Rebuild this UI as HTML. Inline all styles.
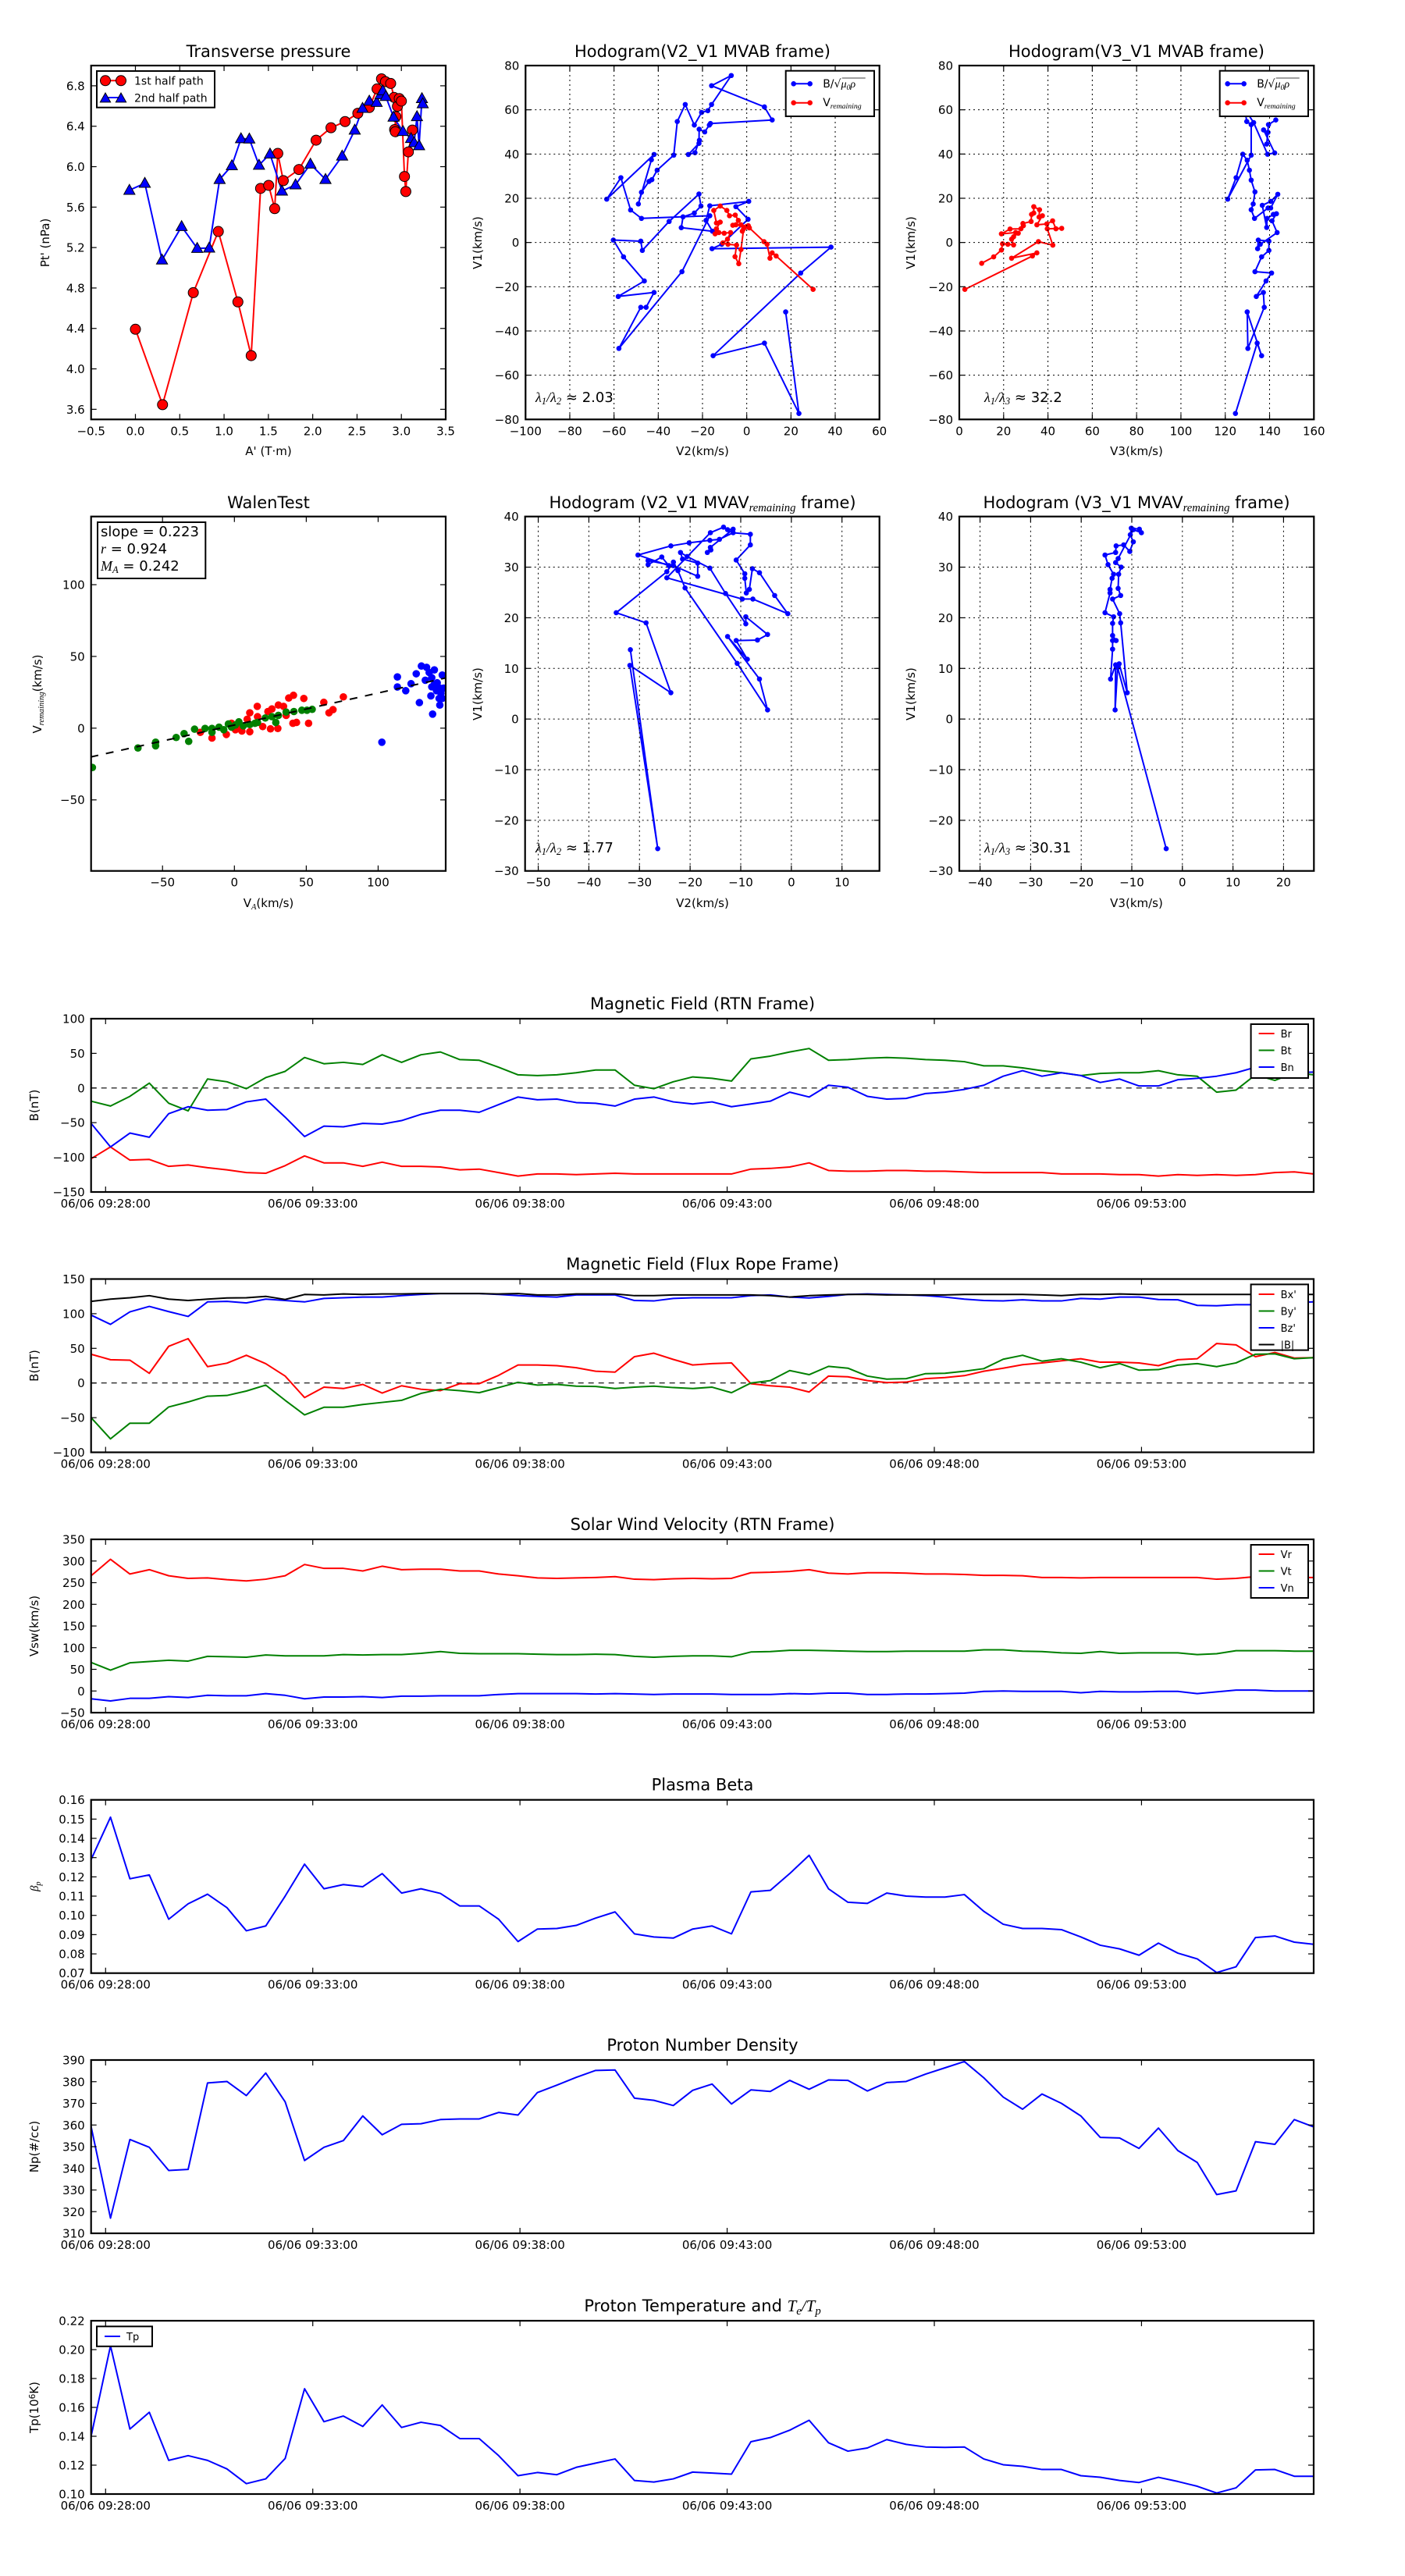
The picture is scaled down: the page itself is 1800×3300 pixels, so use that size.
<!DOCTYPE html>
<html><head><meta charset="utf-8"><title>Flux rope analysis</title>
<style>
html,body{margin:0;padding:0;background:#fff;}
svg{display:block;font-family:"DejaVu Sans","Liberation Sans",sans-serif;}
</style></head>
<body>
<svg id="fig" xmlns="http://www.w3.org/2000/svg" width="1800" height="3300" viewBox="0 0 1800 3300">
<rect x="0" y="0" width="1800" height="3300" fill="#fff"/>
</svg>
<script>
// ---------------- DATA ----------------
const pressureRedA = [0.0,0.306,0.653,0.935,1.156,1.306,1.412,1.503,1.571,1.606,1.668,1.844,2.038,2.206,2.365,2.509,2.638,2.726,2.776,2.821,2.879,2.918,2.956,2.938,2.924,2.932,2.976,3.0,3.035,3.05,3.079,3.124];
const pressureRedP = [4.392,3.646,4.754,5.359,4.662,4.131,5.785,5.815,5.585,6.131,5.862,5.972,6.262,6.385,6.446,6.528,6.585,6.769,6.869,6.841,6.823,6.685,6.597,6.495,6.367,6.346,6.674,6.649,5.903,5.754,6.146,6.362];
const pressureBlueA = [-0.068,0.106,0.3,0.521,0.697,0.832,0.95,1.088,1.191,1.285,1.394,1.518,1.653,1.806,1.974,2.144,2.332,2.474,2.562,2.638,2.721,2.765,2.791,2.824,2.912,3.018,3.109,3.144,3.176,3.2,3.232,3.241];
const pressureBlueP = [5.767,5.836,5.077,5.408,5.192,5.195,5.874,6.01,6.277,6.274,6.015,6.126,5.759,5.821,6.026,5.874,6.105,6.362,6.577,6.649,6.636,6.713,6.751,6.695,6.49,6.349,6.279,6.238,6.495,6.208,6.674,6.623];

const hodoB_V2 = [17.6,23.6,8.0,-15.2,24.4,38.1,-15.7,-11.3,0.6,-4.9,0.9,-16.7,-18.4,-15.5,-29.6,-28.8,-23.7,-20.7,-21.6,-35.1,-47.2,-47.9,-60.3,-55.7,-46.3,-58.1,-41.9,-45.5,-47.9,-57.8,-29.3,-16.7,-47.6,-52.5,-56.9,-63.3,-41.9,-43.1,-49.0,-47.6,-44.2,-42.9,-40.5,-33.0,-31.4,-27.8,-23.7,-20.4,-17.6,-15.9,-7.0,-15.9,8.0,11.5,-16.4,-16.9,-19.0,-21.5,-21.6,-26.4,-23.4,-21.4];
const hodoB_V1 = [-31.4,-77.3,-45.5,-51.2,-13.8,-2.1,-2.8,-0.8,10.5,16.2,18.6,16.6,10.0,5.1,6.7,11.6,13.3,16.5,21.9,9.5,-3.6,0.6,1.1,-6.5,-17.4,-24.4,-22.6,-29.3,-29.3,-47.9,-13.2,12.1,10.9,14.7,29.3,19.6,39.8,37.4,17.4,22.7,27.6,28.4,32.7,39.5,54.7,62.4,53.1,58.8,59.6,62.4,75.5,70.9,61.3,55.4,53.8,53.1,50.0,51.2,44.8,39.8,40.6,46.2];
const hodoR_V2 = [30,13.3,11.5,10.5,9.2,7.8,1.2,0.7,-1.4,-2.6,-3.6,-5.3,-4.6,-8.5,-10.8,-8.7,-7.3,-10.2,-12.6,-14.3,-13.7,-12.0,-13.7,-14.9,-12.0,-9.0,-7.8,-5.2,-3.8,-4.9,-6.3,-2.6,-0.2,-2.0];
const hodoR_V1 = [-21.2,-6.1,-4.7,-7.1,-0.8,0.4,6.6,7.6,6.2,-3.2,-9.6,-6.4,-1.2,-0.8,-0.2,1.5,4.5,4.2,4.5,3.9,6.2,9.2,8.8,14.5,16.5,14.5,12.1,12.4,10.0,8.0,7.8,8.0,7.2,5.1];
const hodoB_V3 = [124.6,134.4,136.4,129.9,130.2,137.6,137.2,134.0,138.4,140.9,133.4,136.4,139.7,139.7,134.9,134.6,135.8,143.4,141.1,143.1,141.7,138.9,138.7,136.7,140.5,143.7,140.5,139.3,133.2,131.7,132.6,133.4,131.7,130.9,129.9,127.9,124.9,121.1,131.7,131.7,129.7,128.8,132.8,139.1,142.3,137.3,139.3,138.7,139.5,142.8];
const hodoB_V1b = [-77.3,-45.5,-51.2,-31.4,-47.9,-29.3,-22.6,-24.4,-17.4,-13.8,-13.2,-6.5,-3.6,0.6,1.1,-2.8,-0.8,4.5,9.8,13.0,12.7,10.9,6.8,16.8,18.6,21.8,15.6,15.6,10.9,14.8,17.4,22.9,28.2,32.7,37.2,39.9,29.3,19.6,39.5,53.3,54.7,60.4,54.2,39.9,40.5,50.9,49.8,44.5,53.3,55.4];
const hodoR_V3 = [2.5,33.0,35.0,23.6,35.7,42.2,39.7,46.2,43.6,42.1,39.5,35.0,37.5,36.0,36.2,33.6,33.6,32.6,32.4,28.7,28.9,27.8,22.9,19.0,25.4,26.6,24.5,23.6,24.5,21.9,19.5,19.0,15.5,10.1];
const hodoR_V1b = [-21.2,-6.1,-4.7,-7.1,0.4,-1.2,6.2,6.4,6.2,9.8,8.4,8.0,12.1,11.5,14.8,16.2,13.3,12.7,9.5,8.6,7.6,6.2,6.1,3.9,4.5,4.2,2.6,1.5,-1.1,-0.8,-0.6,-3.4,-6.5,-9.4];

const walenGreenVA = [-98.8,-67.1,-54.8,-54.8,-40.5,-35,-31.8,-27.7,-20.4,-15.6,-15.6,-10.7,-7.4,-4.2,-2,3.1,6.2,10.7,16.1,21.5,28.8,30.6,36,41.4,46.9,54.1,50.5,26.1,14.3,0.7];
const walenGreenV = [-27.4,-13.8,-9.8,-12.3,-6.5,-3.8,-9.2,-0.7,-0.2,-0.2,-2.9,0.7,-1.1,2.9,0.7,4.4,1.6,2.5,4,7.1,4,8.9,11.2,11.6,12.5,13.1,12.5,8,3.4,2.2];
const walenRedVA = [-23.7,-15.6,-5.6,0.7,5.2,10.7,10.7,15.9,19.7,25.1,26.1,30.6,30.2,36,37.8,41.1,40.7,43.2,48.3,51.6,62.2,65.8,68.6,75.8,16.1,23.3,34.2,8.9,-2,3.4];
const walenRedV = [-2.9,-6.9,-4.4,-1.1,-2,-2.5,10.7,15.2,1.1,-0.5,13.4,16.1,-0.2,8.9,21,22.9,3.4,4,20.7,3.4,18,10.7,12.9,21.8,8,11.6,15.2,6.2,3.4,-0.2];
const walenBlueVA = [102.6,113.4,113.4,119.2,122.9,128.7,126.5,130.1,133.7,135.5,137.3,139.1,136.7,137.9,141.1,142.9,143.7,144.6,145.5,140.6,142.4,132.8,139.1,142.9,144.6,137.3];
const walenBlueV = [-9.8,35.7,28.7,26.1,31,17.8,37.9,43.3,42.4,38.8,35.2,40.6,22.5,9.8,31.6,16.1,24.3,37,27.9,26.1,20.7,33.4,30.6,27.9,20.7,28.8];
const walenFit = [0.223, 2.2];

const mvavV2 = [-31.8,-26.4,-31.9,-23.8,-28.7,-34.6,-24.6,-23.3,-22.4,-21.0,-10.7,-4.7,-6.3,-12.6,-8.7,-10.9,-6.7,-4.7,-9.0,-9.0,-13.0,-16.1,-20.6,-21.9,-21.5,-18.5,-18.5,-23.3,-28.3,-28.3,-25.6,-24.2,-30.3,-23.8,-20.2,-16.1,-14.2,-11.5,-8.1,-8.1,-10.9,-9.2,-9.2,-8.9,-8.3,-7.7,-6.3,-3.3,-0.7,-7.6,-9.7,-24.6,-16.0,-13.4,-12.6,-11.5,-16.0,-16.6,-15.9];
const mvavV1 = [13.7,-25.6,10.6,5.2,19.0,21.0,29.1,31.0,29.3,25.9,11.0,1.8,7.9,16.3,11.8,15.5,15.6,16.7,20.2,18.8,24.8,29.8,32.1,32.9,31.6,30.8,28.2,30.3,31.3,30.5,32.0,30.3,32.4,34.2,34.8,35.3,35.5,36.8,36.5,34.4,31.4,28.7,27.8,24.9,25.6,29.7,28.9,24.4,20.8,23.7,23.7,27.9,36.8,37.9,37.4,37.5,33.9,32.9,33.4];
const mvavV3 = [-3.2,-12.8,-13.3,-13.2,-14.2,-13.8,-13.8,-13.1,-13.8,-13.8,-13.6,-15.3,-14.3,-14.3,-13.9,-13.6,-14.7,-15.3,-13.2,-13.1,-11.6,-10.4,-9.7,-10.3,-10.1,-8.5,-8.1,-9.7,-12.7,-13.2,-12.1,-12.6,-12.7,-12.2,-13.8,-12.4,-12.2,-10.9,-12.5];
const mvavV1b = [-25.6,10.2,1.8,10.7,7.9,13.8,15.5,15.5,16.5,18.9,20.2,21.0,24.9,25.6,27.8,28.6,30.5,32.4,32.9,34.2,34.4,33.1,35.0,36.4,37.7,37.5,36.8,37.4,31.7,30.9,30.0,28.6,25.8,24.4,23.7,20.8,19.0,5.2,10.9];

const timeTicks = [0,300,600,900,1200,1500];
const timeTickLabels = ['06/06 09:28:00','06/06 09:33:00','06/06 09:38:00','06/06 09:43:00','06/06 09:48:00','06/06 09:53:00'];
const sampleStart = -21;  // seconds relative to 09:28:00
const sampleStep = 28.1;  // cadence (s)

const Br = [-102,-85,-104,-103,-113,-111,-115,-118,-122,-123,-112,-98,-108,-108,-113,-107,-113,-113,-114,-118,-117,-122,-127,-124,-124,-125,-124,-123,-124,-124,-124,-124,-124,-124,-117,-116,-114,-108,-119,-120,-120,-119,-119,-120,-120,-121,-122,-122,-122,-122,-124,-124,-124,-125,-125,-127,-125,-126,-125,-126,-125,-122,-121,-124];
const Bt = [-19,-26,-12,7,-22,-33,13,9,-1,15,24,44,35,37,34,48,37,48,52,41,40,30,19,18,19,22,26,26,4,-1,9,16,14,10,42,46,52,57,40,41,43,44,43,41,40,38,32,32,29,25,22,18,21,22,22,25,19,17,-6,-3,19,11,22,19];
const Bn = [-51,-85,-65,-71,-37,-27,-32,-31,-20,-16,-42,-70,-55,-56,-51,-52,-47,-38,-32,-32,-35,-24,-13,-17,-16,-21,-22,-26,-16,-13,-20,-23,-20,-27,-23,-19,-6,-13,4,1,-12,-16,-15,-8,-6,-2,4,17,25,17,22,18,8,13,3,3,12,14,17,22,30,25,22,23];
const Bx = [41.5,33.6,32.9,14,53,64,23.6,28.6,40,27.9,10,-21,-6,-8,-2,-14.5,-4,-9,-11,-1,-1,11,26,26,25,22,17,15.7,38,43,34,26,28,29,-1,-4,-6,-13,10,9,3.5,0.6,1.3,6.3,7.8,10.6,17,21.4,26.4,29,32,35,30,30,29,25,33.6,35,57,55,38,44,36,36.5];
const By = [-50,-80.6,-58,-58,-34.6,-27.4,-19,-18,-11.6,-3,-25,-46,-35,-35,-31,-28,-25,-15,-9,-11,-14,-6.6,1,-3,-2,-4.5,-5,-8,-6,-4.5,-6.6,-8,-6,-14,0,3.5,18,12,24,21.4,10,5.6,6.3,13.5,14,17,20.7,34.3,40,31.5,35,30,22,28,18.5,19.3,25.7,28,23.6,29,41.5,42,35,36.5];
const Bz = [98,84.6,102.6,110.5,103,96,117,117.7,115.5,121,119,117,122,123,124,124,126,127.7,129,129,129,127.7,126,125,124,127,127,127,119,118.4,122,123,123,123,126,127,124,122.7,125,127.7,128.4,127.7,127,126,124,121,119,118.4,120,118.4,118.4,122,121,124,124,120.5,120,112,111.5,113,113,116,116,117];
const Bmag = [117.7,121,123,126,121,119,121,122.7,123,125,120.5,127.7,127,128.4,127.7,128.4,128.4,129,129,129,129,128.4,129,127,127,128.4,128.4,128.4,126,126,127,127,127,127,127,126,124,126,127,127.7,127.7,127,127,127,127,127.7,127.7,127.7,127.7,127,126,127.7,127.7,128.4,127.7,127.7,127.7,127.7,127.7,127.7,127.7,127.7,127.7,127.7];
const Vr = [266,304,270,280,266,260,261,257,254,258,266,292,283,283,277,288,280,281,281,277,277,270,266,261,260,261,262,264,258,257,259,260,259,260,273,274,276,280,272,270,273,273,272,270,270,269,267,267,266,262,262,261,262,262,262,262,262,262,258,260,264,262,262,262];
const Vt = [66,48,65,68,71,69,80,79,78,83,81,81,81,84,83,84,84,87,91,87,86,86,86,85,84,84,85,84,80,78,80,81,81,79,90,91,94,94,93,92,91,91,92,92,92,92,95,95,92,91,88,87,91,87,88,88,88,84,86,93,93,93,92,92];
const Vn = [-18,-23,-17,-17,-13,-15,-10,-11,-11,-6,-10,-18,-14,-14,-13,-15,-12,-12,-11,-11,-11,-8,-6,-6,-6,-6,-7,-6,-7,-8,-7,-7,-7,-8,-8,-8,-6,-7,-5,-5,-8,-8,-7,-7,-6,-5,-1,0,-1,-1,-1,-4,-1,-2,-2,-1,-1,-6,-2,2,2,0,0,0];
const betaP = [0.129,0.151,0.119,0.121,0.098,0.106,0.111,0.104,0.092,0.0945,0.110,0.1266,0.1138,0.116,0.1149,0.1217,0.1116,0.1138,0.1114,0.1049,0.1049,0.098,0.0864,0.0929,0.0932,0.0948,0.0986,0.1018,0.0904,0.0888,0.0882,0.0929,0.0945,0.0904,0.1122,0.113,0.1217,0.1312,0.1138,0.1068,0.1062,0.1116,0.110,0.1095,0.1095,0.1108,0.1021,0.0954,0.0932,0.0932,0.0926,0.0888,0.0845,0.0826,0.0793,0.0856,0.0804,0.0774,0.0703,0.0733,0.0885,0.0893,0.0861,0.085];
const Np = [359.3,317,353.3,349.7,339,339.5,379.4,380.1,373.6,384,370.7,343.6,349.7,352.8,364.2,355.5,360.3,360.6,362.5,362.8,362.8,365.8,364.6,375,378.4,382,385.2,385.4,372.4,371.4,369,376,378.9,369.7,376.2,375.5,380.6,376.5,380.8,380.6,375.7,379.6,380.1,383.5,386.4,389.3,381.8,372.9,367.3,374.3,370,364.2,354.3,354,349.2,358.6,348.2,342.7,327.9,329.6,352.3,351.1,362.5,359.1];
const Tp = [0.140,0.2026,0.145,0.1566,0.1233,0.1266,0.1233,0.1174,0.1072,0.1105,0.1246,0.1729,0.1501,0.154,0.1468,0.1617,0.1461,0.1497,0.1475,0.1384,0.1384,0.1266,0.1127,0.1149,0.1134,0.1185,0.1214,0.1243,0.1094,0.1083,0.1105,0.1152,0.1145,0.1138,0.1362,0.1391,0.1442,0.1511,0.1355,0.1297,0.1319,0.1377,0.1344,0.1326,0.1323,0.1326,0.1243,0.1203,0.1192,0.117,0.117,0.1127,0.1116,0.1094,0.108,0.1116,0.1087,0.1054,0.1007,0.1043,0.1167,0.117,0.1123,0.1123];

// ---------------- DRAWING ----------------
const NS = 'http://www.w3.org/2000/svg';
const svg = document.getElementById('fig');
let clipId = 0;
function mk(tag, attrs, parent) {
  const e = document.createElementNS(NS, tag);
  for (const k in attrs) e.setAttribute(k, attrs[k]);
  (parent || svg).appendChild(e);
  return e;
}
function txt(parent, x, y, s, size, anchor, extra) {
  const t = mk('text', Object.assign({x: x, y: y, 'font-size': size, 'text-anchor': anchor || 'middle', fill: '#000'}, extra || {}), parent);
  t.textContent = s;
  return t;
}
function richText(parent, x, y, parts, size, anchor, extra) {
  // parts: [text, kind] kind: '', 'sub', 'it'
  const t = mk('text', Object.assign({x: x, y: y, 'font-size': size, 'text-anchor': anchor || 'middle', fill: '#000'}, extra || {}), parent);
  parts.forEach(p => {
    const ts = mk('tspan', {}, t);
    if (p[1] === 'sub') { ts.setAttribute('font-family', '"Liberation Serif", serif'); ts.setAttribute('font-style', 'italic'); ts.setAttribute('font-size', size * 0.7); ts.setAttribute('baseline-shift', '-25%'); }
    if (p[1] === 'it') { ts.setAttribute('font-family', '"Liberation Serif", serif'); ts.setAttribute('font-style', 'italic'); }
    if (p[1] === 'sup') { ts.setAttribute('font-size', size * 0.7); ts.setAttribute('baseline-shift', '40%'); }
    ts.textContent = p[0];
  });
  return t;
}
function axes(o) {
  const g = mk('g', {});
  
  
  o.g = g;
  o.sx = v => o.x + (v - o.xmin) / (o.xmax - o.xmin) * o.w;
  o.sy = v => o.y + o.h - (v - o.ymin) / (o.ymax - o.ymin) * o.h;
  const cp = mk('clipPath', {id: 'clip' + (++clipId)}, g);
  mk('rect', {x: o.x, y: o.y, width: o.w, height: o.h}, cp);
  o.clip = 'url(#clip' + clipId + ')';
  o.plot = mk('g', {'clip-path': o.clip}, g);
  
  
  return o;
}
function frame(o, xt, xl, yt, yl, grid) {
  const g = o.g;
  if (grid) {
    const gg = mk('g', {stroke: '#000', 'stroke-width': 1, 'stroke-dasharray': '2,4'}, g);
    
    
    xt.forEach(v => { const X = o.sx(v); if (X > o.x + 1 && X < o.x + o.w - 1) mk('line', {x1: X, x2: X, y1: o.y, y2: o.y + o.h}, gg); });
    yt.forEach(v => { const Y = o.sy(v); if (Y > o.y + 1 && Y < o.y + o.h - 1) mk('line', {x1: o.x, x2: o.x + o.w, y1: Y, y2: Y}, gg); });
  }
  const tg = mk('g', {stroke: '#000', 'stroke-width': 1.2}, g);
  
  
  const xg = mk('g', {}, g);
  
  
  const yg = mk('g', {}, g);
  
  
  xt.forEach((v, i) => {
    const X = o.sx(v);
    mk('line', {x1: X, x2: X, y1: o.y + o.h, y2: o.y + o.h - 7}, tg);
    mk('line', {x1: X, x2: X, y1: o.y, y2: o.y + 7}, tg);
    txt(xg, X, o.y + o.h + 20, xl[i], 15, 'middle');
  });
  yt.forEach((v, i) => {
    const Y = o.sy(v);
    mk('line', {x1: o.x, x2: o.x + 7, y1: Y, y2: Y}, tg);
    mk('line', {x1: o.x + o.w, x2: o.x + o.w - 7, y1: Y, y2: Y}, tg);
    txt(yg, o.x - 8, Y + 5.5, yl[i], 15, 'end');
  });
  const sp = mk('rect', {x: o.x, y: o.y, width: o.w, height: o.h, fill: 'none', stroke: '#000', 'stroke-width': 2.2}, g);
  
  
}
function polyline(o, xs, ys, color, width, name) {
  const pts = xs.map((x, i) => o.sx(x).toFixed(2) + ',' + o.sy(ys[i]).toFixed(2)).join(' ');
  const p = mk('polyline', {points: pts, fill: 'none', stroke: color, 'stroke-width': width, 'stroke-linejoin': 'round'}, o.plot);
  
  
  return p;
}
function dots(o, xs, ys, color, r, name, stroke) {
  const g = mk('g', {fill: color}, o.plot);
  
  
  xs.forEach((x, i) => mk('circle', Object.assign({cx: o.sx(x), cy: o.sy(ys[i]), r: r}, stroke ? {stroke: '#000', 'stroke-width': 1} : {}), g));
  return g;
}
function tri(parent, cx, cy, s, color) {
  return mk('polygon', {points: [cx, cy - s, cx - s * 0.95, cy + s * 0.7, cx + s * 0.95, cy + s * 0.7].join(' '), fill: color, stroke: '#000', 'stroke-width': 1}, parent);
}
function rng(a, b, s) { const r = []; for (let v = a; v <= b + 1e-9; v += s) r.push(Math.round(v * 1000) / 1000); return r; }
function minus(v) { return String(v).replace('-', '\u2212'); }

// ===== Row 1 =====
// Transverse pressure
const P1 = axes({name: 'transverse-pressure-chart', x: 116.7, y: 84, w: 454.3, h: 453.3, xmin: -0.5, xmax: 3.5, ymin: 3.5, ymax: 7.0});
polyline(P1, pressureRedA, pressureRedP, '#ff0000', 2, 'first-half-path-line');
polyline(P1, pressureBlueA, pressureBlueP, '#0000ff', 2, 'second-half-path-line');
{
  const g = mk('g', {}, P1.plot);
  
  
  pressureRedA.forEach((a, i) => mk('circle', {cx: P1.sx(a), cy: P1.sy(pressureRedP[i]), r: 6.5, fill: '#ff0000', stroke: '#000', 'stroke-width': 1}, g));
  const g2 = mk('g', {}, P1.plot);
  
  
  pressureBlueA.forEach((a, i) => tri(g2, P1.sx(a), P1.sy(pressureBlueP[i]), 7.5, '#0000ff'));
}
const pXt = rng(-0.5, 3.5, 0.5), pYt = rng(3.6, 6.8, 0.4);
frame(P1, pXt, pXt.map(v => minus(v.toFixed(1))), pYt, pYt.map(v => v.toFixed(1)), false);
{
  const lg = mk('g', {}, P1.g);
  
  
  mk('rect', {x: 124, y: 91, width: 151, height: 46.7, fill: '#fff', stroke: '#000', 'stroke-width': 2}, lg);
  mk('line', {x1: 135, x2: 155, y1: 103.3, y2: 103.3, stroke: '#ff0000', 'stroke-width': 2}, lg);
  mk('circle', {cx: 135, cy: 103.3, r: 6.5, fill: '#ff0000', stroke: '#000'}, lg);
  mk('circle', {cx: 155, cy: 103.3, r: 6.5, fill: '#ff0000', stroke: '#000'}, lg);
  txt(lg, 172, 108.5, '1st half path', 14, 'start');
  mk('line', {x1: 135, x2: 155, y1: 125, y2: 125, stroke: '#0000ff', 'stroke-width': 2}, lg);
  tri(lg, 135, 126, 7, '#0000ff'); tri(lg, 155, 126, 7, '#0000ff');
  txt(lg, 172, 130.5, '2nd half path', 14, 'start');
}
txt(svg, 344, 73, 'Transverse pressure', 21, 'middle');
txt(svg, 344, 583, "A' (T\u00B7m)", 15, 'middle');
txt(svg, 0, 0, "Pt' (nPa)", 15, 'middle', {transform: 'translate(63,311) rotate(-90)'});

// Hodogram legends helper
function hodoLegend(o, x0, name) {
  const lg = mk('g', {}, o.g);
  
  
  mk('rect', {x: x0, y: 90.7, width: 113.3, height: 58.3, fill: '#fff', stroke: '#000', 'stroke-width': 2}, lg);
  mk('line', {x1: x0 + 10, x2: x0 + 31, y1: 107.3, y2: 107.3, stroke: '#0000ff', 'stroke-width': 2}, lg);
  mk('circle', {cx: x0 + 10, cy: 107.3, r: 3.3, fill: '#0000ff'}, lg);
  mk('circle', {cx: x0 + 31, cy: 107.3, r: 3.3, fill: '#0000ff'}, lg);
  richText(lg, x0 + 47.5, 112, [['B/\u221A', ''], ['\u03BC', 'it'], ['0', 'sub'], ['\u03C1', 'it']], 14, 'start');
  mk('line', {x1: x0 + 72, x2: x0 + 102, y1: 100, y2: 100, stroke: '#000', 'stroke-width': 0.8}, lg);
  mk('line', {x1: x0 + 10, x2: x0 + 31, y1: 131.7, y2: 131.7, stroke: '#ff0000', 'stroke-width': 2}, lg);
  mk('circle', {cx: x0 + 10, cy: 131.7, r: 3.3, fill: '#ff0000'}, lg);
  mk('circle', {cx: x0 + 31, cy: 131.7, r: 3.3, fill: '#ff0000'}, lg);
  richText(lg, x0 + 47.5, 136, [['V', ''], ['remaining', 'sub']], 14, 'start');
}

// Hodogram V2-V1 MVAB
const H1 = axes({name: 'hodogram-v2-v1-mvab-chart', x: 673.3, y: 84, w: 453.4, h: 453.3, xmin: -100, xmax: 60, ymin: -80, ymax: 80});
const h1Xt = rng(-100, 60, 20), h1Yt = rng(-80, 80, 20);
frame(H1, h1Xt, h1Xt.map(minus), h1Yt, h1Yt.map(minus), true);
polyline(H1, hodoB_V2, hodoB_V1, '#0000ff', 2, 'b-field-path');
dots(H1, hodoB_V2, hodoB_V1, '#0000ff', 3.3, 'b-field-points');
polyline(H1, hodoR_V2, hodoR_V1, '#ff0000', 2, 'v-remaining-path');
dots(H1, hodoR_V2, hodoR_V1, '#ff0000', 3.3, 'v-remaining-points');
hodoLegend(H1, 1006.7, 'hodogram-v2-v1-legend');
richText(H1.g, 686, 515, [['\u03BB', 'it'], ['1', 'sub'], ['/', 'it'], ['\u03BB', 'it'], ['2', 'sub'], [' \u2248 2.03', '']], 18, 'start');
txt(svg, 900, 73, 'Hodogram(V2_V1 MVAB frame)', 21, 'middle');
txt(svg, 900, 583, 'V2(km/s)', 15, 'middle');
txt(svg, 0, 0, 'V1(km/s)', 15, 'middle', {transform: 'translate(617,311) rotate(-90)'});

// Hodogram V3-V1 MVAB
const H2 = axes({name: 'hodogram-v3-v1-mvab-chart', x: 1229, y: 84, w: 454.3, h: 453.3, xmin: 0, xmax: 160, ymin: -80, ymax: 80});
const h2Xt = rng(0, 160, 20);
frame(H2, h2Xt, h2Xt.map(minus), h1Yt, h1Yt.map(minus), true);
polyline(H2, hodoB_V3, hodoB_V1b, '#0000ff', 2, 'b-field-path');
dots(H2, hodoB_V3, hodoB_V1b, '#0000ff', 3.3, 'b-field-points');
polyline(H2, hodoR_V3, hodoR_V1b, '#ff0000', 2, 'v-remaining-path');
dots(H2, hodoR_V3, hodoR_V1b, '#ff0000', 3.3, 'v-remaining-points');
hodoLegend(H2, 1562.7, 'hodogram-v3-v1-legend');
richText(H2.g, 1261, 515, [['\u03BB', 'it'], ['1', 'sub'], ['/', 'it'], ['\u03BB', 'it'], ['3', 'sub'], [' \u2248 32.2', '']], 18, 'start');
txt(svg, 1456, 73, 'Hodogram(V3_V1 MVAB frame)', 21, 'middle');
txt(svg, 1456, 583, 'V3(km/s)', 15, 'middle');
txt(svg, 0, 0, 'V1(km/s)', 15, 'middle', {transform: 'translate(1172,311) rotate(-90)'});

// ===== Row 2 =====
const W = axes({name: 'walen-test-chart', x: 116.7, y: 661.7, w: 454.3, h: 454, xmin: -99.7, xmax: 147, ymin: -99.5, ymax: 147.5});
dots(W, walenBlueVA, walenBlueV, '#0000ff', 4.8, 'walen-blue-points');
dots(W, walenRedVA, walenRedV, '#ff0000', 4.8, 'walen-red-points');
dots(W, walenGreenVA, walenGreenV, '#008000', 4.8, 'walen-green-points');
{
  const fl = mk('line', {x1: W.sx(-100), y1: W.sy(walenFit[0] * -100 + walenFit[1]), x2: W.sx(150), y2: W.sy(walenFit[0] * 150 + walenFit[1]), stroke: '#000', 'stroke-width': 2, 'stroke-dasharray': '10,10'}, W.plot);
  
  
}
const wT = [-50, 0, 50, 100];
frame(W, wT, wT.map(minus), wT, wT.map(minus), false);
{
  const bx = mk('g', {}, W.g);
  
  
  mk('rect', {x: 125, y: 669, width: 138.3, height: 72, fill: '#fff', stroke: '#000', 'stroke-width': 2}, bx);
  txt(bx, 129, 687, 'slope = 0.223', 18, 'start');
  richText(bx, 129, 709, [['r', 'it'], [' = 0.924', '']], 18, 'start');
  richText(bx, 129, 731, [['M', 'it'], ['A', 'sub'], [' = 0.242', '']], 18, 'start');
}
txt(svg, 344, 651, 'WalenTest', 21, 'middle');
richText(svg, 344, 1162, [['V', ''], ['A', 'sub'], ['(km/s)', '']], 15, 'middle');
richText(svg, 0, 0, [['V', ''], ['remaining', 'sub'], ['(km/s)', '']], 15, 'middle', {transform: 'translate(53,889) rotate(-90)'});

const M1 = axes({name: 'hodogram-v2-v1-mvav-chart', x: 672.7, y: 661.7, w: 454, h: 454, xmin: -52.6, xmax: 17.4, ymin: -30, ymax: 40});
const m1Xt = rng(-50, 10, 10), mYt = rng(-30, 40, 10);
frame(M1, m1Xt, m1Xt.map(minus), mYt, mYt.map(minus), true);
polyline(M1, mvavV2, mvavV1, '#0000ff', 2, 'b-field-path');
dots(M1, mvavV2, mvavV1, '#0000ff', 3.3, 'b-field-points');
richText(M1.g, 686, 1092, [['\u03BB', 'it'], ['1', 'sub'], ['/', 'it'], ['\u03BB', 'it'], ['2', 'sub'], [' \u2248 1.77', '']], 18, 'start');
richText(svg, 900, 651, [['Hodogram (V2_V1 MVAV', ''], ['remaining', 'sub'], [' frame)', '']], 21, 'middle');
txt(svg, 900, 1162, 'V2(km/s)', 15, 'middle');
txt(svg, 0, 0, 'V1(km/s)', 15, 'middle', {transform: 'translate(617,889) rotate(-90)'});

const M2 = axes({name: 'hodogram-v3-v1-mvav-chart', x: 1229, y: 661.7, w: 454.3, h: 454, xmin: -44.1, xmax: 26, ymin: -30, ymax: 40});
const m2Xt = rng(-40, 20, 10);
frame(M2, m2Xt, m2Xt.map(minus), mYt, mYt.map(minus), true);
polyline(M2, mvavV3, mvavV1b, '#0000ff', 2, 'b-field-path');
dots(M2, mvavV3, mvavV1b, '#0000ff', 3.3, 'b-field-points');
richText(M2.g, 1261, 1092, [['\u03BB', 'it'], ['1', 'sub'], ['/', 'it'], ['\u03BB', 'it'], ['3', 'sub'], [' \u2248 30.31', '']], 18, 'start');
richText(svg, 1456, 651, [['Hodogram (V3_V1 MVAV', ''], ['remaining', 'sub'], [' frame)', '']], 21, 'middle');
txt(svg, 1456, 1162, 'V3(km/s)', 15, 'middle');
txt(svg, 0, 0, 'V1(km/s)', 15, 'middle', {transform: 'translate(1172,889) rotate(-90)'});

// ===== Time-series panels =====
const sampleTimes = Br.map((_, i) => sampleStart + i * sampleStep);
const tMin = sampleStart, tMax = sampleStart + (Br.length - 1) * sampleStep;
function timePanel(cfg) {
  const o = axes({name: cfg.name, x: 116.7, y: cfg.top, w: 1566.3, h: 222, xmin: tMin, xmax: tMax, ymin: cfg.ymin, ymax: cfg.ymax});
  if (cfg.zero) {
    const z = mk('line', {x1: o.x, x2: o.x + o.w, y1: o.sy(0), y2: o.sy(0), stroke: '#000', 'stroke-width': 1.2, 'stroke-dasharray': '7,6'}, o.plot);
    
    
  }
  cfg.series.forEach(s => polyline(o, sampleTimes, s.vals, s.color, 2, s.name));
  frame(o, timeTicks, timeTickLabels, cfg.yticks, cfg.yticks.map(cfg.fmt), false);
  const tt = richText(svg, 900, cfg.top - 12, cfg.title, 21, 'middle');
  
  
  const yl = richText(svg, 0, 0, cfg.ylabel, 15, 'middle', {transform: 'translate(49,' + (cfg.top + 111) + ') rotate(-90)'});
  
  
  if (cfg.legend) {
    const L = cfg.legend;
    const lg = mk('g', {}, o.g);
    
    
    mk('rect', {x: L.x, y: L.y, width: L.w, height: L.h, fill: '#fff', stroke: '#000', 'stroke-width': 2}, lg);
    cfg.series.forEach((s, i) => {
      const yy = L.y + L.first + i * L.step;
      mk('line', {x1: L.x + 10, x2: L.x + 30, y1: yy, y2: yy, stroke: s.color, 'stroke-width': 2}, lg);
      txt(lg, L.x + 38, yy + 5, s.label, 13, 'start');
    });
  }
  return o;
}
const fmtInt = v => minus(v);
timePanel({name: 'magnetic-field-rtn-chart', top: 1305, ymin: -150, ymax: 100, yticks: rng(-150, 100, 50), fmt: fmtInt, zero: true,
  title: [['Magnetic Field (RTN Frame)', '']], ylabel: [['B(nT)', '']],
  series: [{vals: Br, color: '#ff0000', name: 'br-line', label: 'Br'}, {vals: Bt, color: '#008000', name: 'bt-line', label: 'Bt'}, {vals: Bn, color: '#0000ff', name: 'bn-line', label: 'Bn'}],
  legend: {x: 1602.6, y: 1312, w: 73.4, h: 69, first: 12, step: 21.5}});
timePanel({name: 'magnetic-field-flux-rope-chart', top: 1638.5, ymin: -100, ymax: 150, yticks: rng(-100, 150, 50), fmt: fmtInt, zero: true,
  title: [['Magnetic Field (Flux Rope Frame)', '']], ylabel: [['B(nT)', '']],
  series: [{vals: Bx, color: '#ff0000', name: 'bx-line', label: "Bx'"}, {vals: By, color: '#008000', name: 'by-line', label: "By'"}, {vals: Bz, color: '#0000ff', name: 'bz-line', label: "Bz'"}, {vals: Bmag, color: '#000000', name: 'b-magnitude-line', label: '|B|'}],
  legend: {x: 1602.6, y: 1645.4, w: 73.4, h: 84.2, first: 12.6, step: 21.5}});
timePanel({name: 'solar-wind-velocity-chart', top: 1972, ymin: -50, ymax: 350, yticks: rng(-50, 350, 50), fmt: fmtInt,
  title: [['Solar Wind Velocity (RTN Frame)', '']], ylabel: [['Vsw(km/s)', '']],
  series: [{vals: Vr, color: '#ff0000', name: 'vr-line', label: 'Vr'}, {vals: Vt, color: '#008000', name: 'vt-line', label: 'Vt'}, {vals: Vn, color: '#0000ff', name: 'vn-line', label: 'Vn'}],
  legend: {x: 1602.6, y: 1979, w: 73.4, h: 68, first: 12, step: 21.5}});
timePanel({name: 'plasma-beta-chart', top: 2305.7, ymin: 0.07, ymax: 0.16, yticks: rng(0.07, 0.16, 0.01), fmt: v => v.toFixed(2),
  title: [['Plasma Beta', '']], ylabel: [['\u03B2', 'it'], ['p', 'sub']],
  series: [{vals: betaP, color: '#0000ff', name: 'beta-line', label: 'beta'}]});
timePanel({name: 'proton-density-chart', top: 2639, ymin: 310, ymax: 390, yticks: rng(310, 390, 10), fmt: fmtInt,
  title: [['Proton Number Density', '']], ylabel: [['Np(#/cc)', '']],
  series: [{vals: Np, color: '#0000ff', name: 'np-line', label: 'Np'}]});
timePanel({name: 'proton-temperature-chart', top: 2973, ymin: 0.10, ymax: 0.22, yticks: rng(0.10, 0.22, 0.02), fmt: v => v.toFixed(2),
  title: [['Proton Temperature and ', ''], ['T', 'it'], ['e', 'sub'], ['/', 'it'], ['T', 'it'], ['p', 'sub']], ylabel: [['Tp(10', ''], ['6', 'sup'], ['K)', '']],
  series: [{vals: Tp, color: '#0000ff', name: 'tp-line', label: 'Tp'}],
  legend: {x: 124, y: 2980.3, w: 71, h: 25.5, first: 12.7, step: 20}});
</script>
</body></html>
